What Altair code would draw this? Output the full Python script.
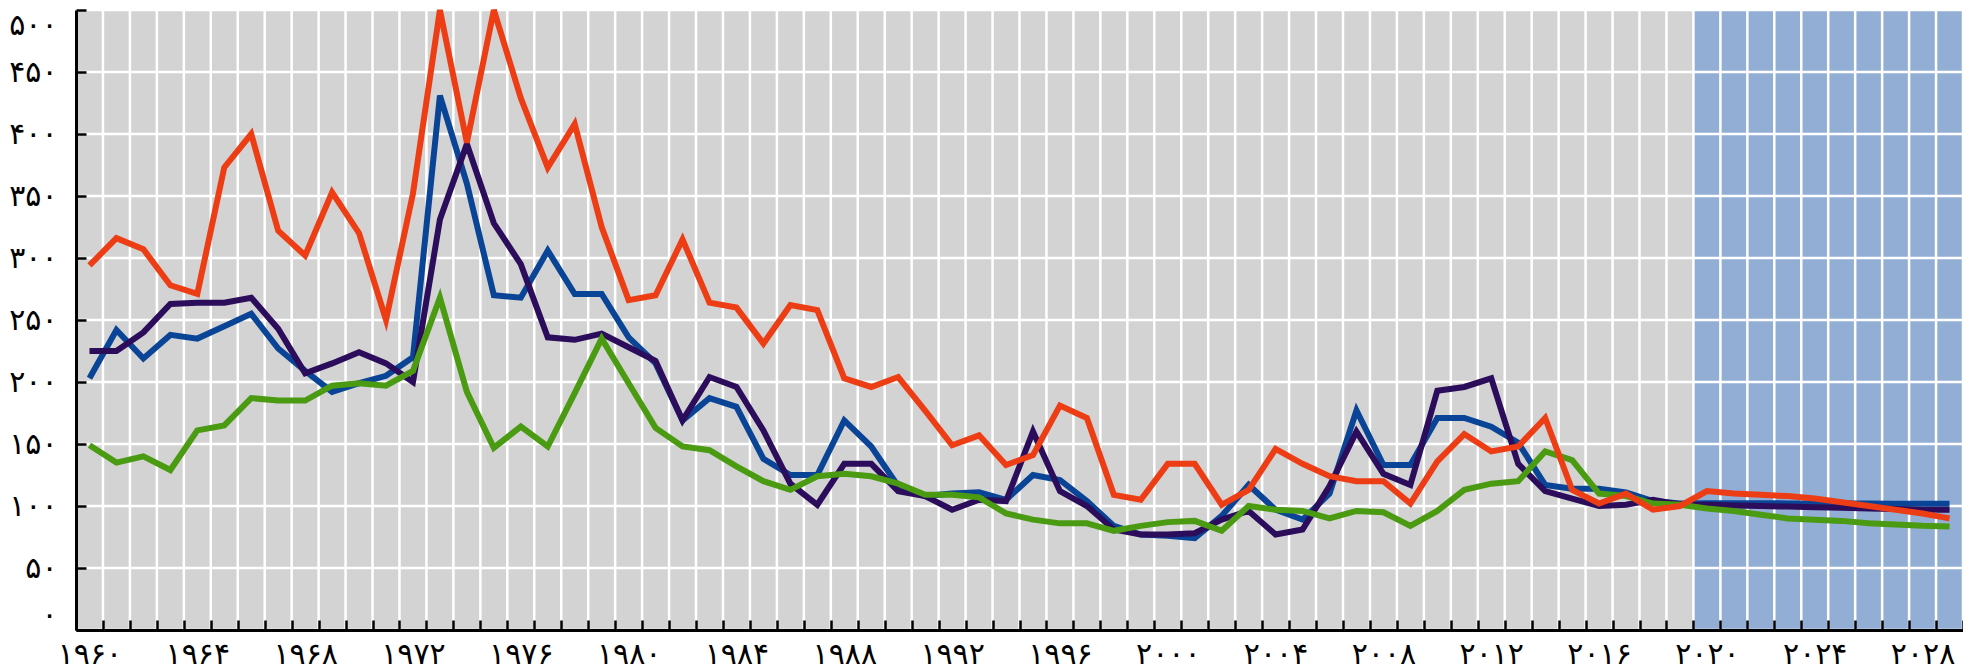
import altair as alt
import pandas as pd

years = list(range(1960, 2030))
forecast_years = list(range(2020, 2030))
x_label_years = list(range(1960, 2029, 4))
y_ticks = [0, 50, 100, 150, 200, 250, 300, 350, 400, 450, 500]

red_values = [294, 316, 307, 278, 271, 373, 400, 322, 302, 353,
              320, 250, 352, 500, 393, 500, 429, 373, 408, 325,
              266, 270, 315, 264, 260, 231, 262, 258, 203, 196,
              204, 177, 149, 157, 133, 141, 181, 171, 109, 105,
              134, 134, 101, 113, 146, 134, 124, 120, 120, 102,
              136, 158, 144, 148, 171, 113, 102, 110, 97, 100,
              112, 110, 109, 108, 106, 103, 100, 97, 94, 90]

blue_values = [203, 242, 219, 238, 235, 245, 255, 227, 209, 192,
               199, 205, 220, 431, 360, 270, 268, 306, 271, 271,
               236, 215, 169, 187, 180, 138, 125, 125, 169, 148,
               116, 108, 110, 111, 105, 125, 121, 104, 84, 77,
               76, 74, 92, 117, 97, 89, 110, 177, 133, 133,
               171, 171, 164, 151, 117, 114, 114, 111, 104, 102,
               102.3, 102.2, 102.2, 102.1, 102.1, 102, 102, 101.9, 101.9, 101.8]

purple_values = [225, 225, 240, 263, 264, 264, 268, 243, 207, 215,
                 224, 215, 200, 331, 392, 328, 295, 236, 234, 239,
                 228, 217, 169, 204, 196, 161, 118, 101, 134, 134,
                 112, 108, 97, 105, 104, 160, 112, 100, 81, 77,
                 77, 78, 89, 96, 77, 81, 116, 160, 126, 117,
                 193, 196, 203, 134, 112, 106, 100, 101, 105, 101,
                 101, 100.5, 100, 99.5, 99, 98.5, 98, 97.5, 97, 97]

green_values = [149, 135, 140, 129, 161, 165, 187, 185, 185, 197,
                199, 197, 209, 268, 192, 147, 164, 148, 191, 235,
                199, 163, 148, 145, 132, 120, 113, 124, 126, 124,
                118, 109, 109, 107, 94, 89, 86, 86, 80, 84,
                87, 88, 80, 100, 97, 96, 90, 96, 95, 84,
                96, 113, 118, 120, 144, 137, 110, 108, 102, 101,
                98, 96, 93, 90, 89, 88, 86, 85, 84, 83.5]

series = [
    ("blue", blue_values, "#0a4496"),
    ("purple", purple_values, "#2b0d5c"),
    ("green", green_values, "#4a9a12"),
    ("red", red_values, "#ec3d15"),
]

PERSIAN = "۰۱۲۳۴۵۶۷۸۹"


def persian_expr(src):
    expr = f"toString({src})"
    for i, d in enumerate(PERSIAN):
        expr = f"replace({expr}, regexp('{i}', 'g'), '{d}')"
    return expr


FONT = "DejaVu Sans"
xs = alt.Scale(domain=[years[0] - 0.5, years[-1] + 0.5], nice=False, zero=False)
ys = alt.Scale(domain=[y_ticks[0], y_ticks[-1]], nice=False)
bounds = [y - 0.5 for y in years] + [years[-1] + 0.5]

tick_axis_x = alt.Axis(orient="bottom", values=bounds, offset=-10, tickSize=10,
                       tickWidth=2.5, tickColor="black", labels=False, domain=False,
                       grid=False, title=None, zindex=1)
tick_axis_y = alt.Axis(orient="left", values=y_ticks, offset=-10, tickSize=10,
                       tickWidth=2.5, tickColor="black", labels=False, domain=False,
                       grid=False, title=None, zindex=1)
main_axis_x = alt.Axis(orient="bottom", values=x_label_years, labelExpr=persian_expr("datum.value"),
                       ticks=False, tickSize=0, domain=True, domainColor="black", domainWidth=3,
                       grid=False, title=None, labelFont=FONT, labelFontSize=30,
                       labelColor="black", labelPadding=9,
                       labelFlush=False, labelOverlap=False, zindex=1)
main_axis_y = alt.Axis(orient="left", values=y_ticks, labelExpr=persian_expr("datum.value"),
                       ticks=False, tickSize=0, domain=True, domainColor="black", domainWidth=3,
                       grid=False, title=None, labelFont=FONT, labelFontSize=30,
                       labelColor="black", labelPadding=19,
                       labelFlush=True, labelOverlap=False, zindex=1)

forecast = alt.Chart(pd.DataFrame({"year": forecast_years})).transform_calculate(
    start="datum.year - 0.5", end="datum.year + 0.5"
).mark_rect(color="#92aed4").encode(
    x=alt.X("start:Q", scale=xs, axis=None), x2="end:Q"
)

vgrid = alt.Chart(pd.DataFrame({"edge": bounds})).mark_rule(
    color="white", strokeWidth=2.5
).encode(x=alt.X("edge:Q", scale=xs, axis=tick_axis_x))

hgrid = alt.Chart(pd.DataFrame({"v": y_ticks})).mark_rule(
    color="white", strokeWidth=2.5
).encode(y=alt.Y("v:Q", scale=ys, axis=tick_axis_y))

line_layers = []
for i, (name, vals, color) in enumerate(series):
    df = pd.DataFrame({"year": years, "value": vals, "series": name})
    line_layers.append(
        alt.Chart(df).mark_line(color=color, strokeWidth=6).encode(
            x=alt.X("year:Q", scale=xs, axis=main_axis_x if i == 0 else None),
            y=alt.Y("value:Q", scale=ys, axis=main_axis_y if i == 0 else None),
        )
    )

chart = alt.layer(forecast, vgrid, hgrid, *line_layers).resolve_axis(
    x="independent", y="independent"
).properties(
    width=1887, height=620,
    padding={"left": 68, "top": 2, "right": 0, "bottom": 41},
    autosize=alt.AutoSizeParams(type="none"),
).configure_view(fill="#d3d3d3", stroke=None)

chart.save("out.html", embed_options={"renderer": "svg", "actions": False})
